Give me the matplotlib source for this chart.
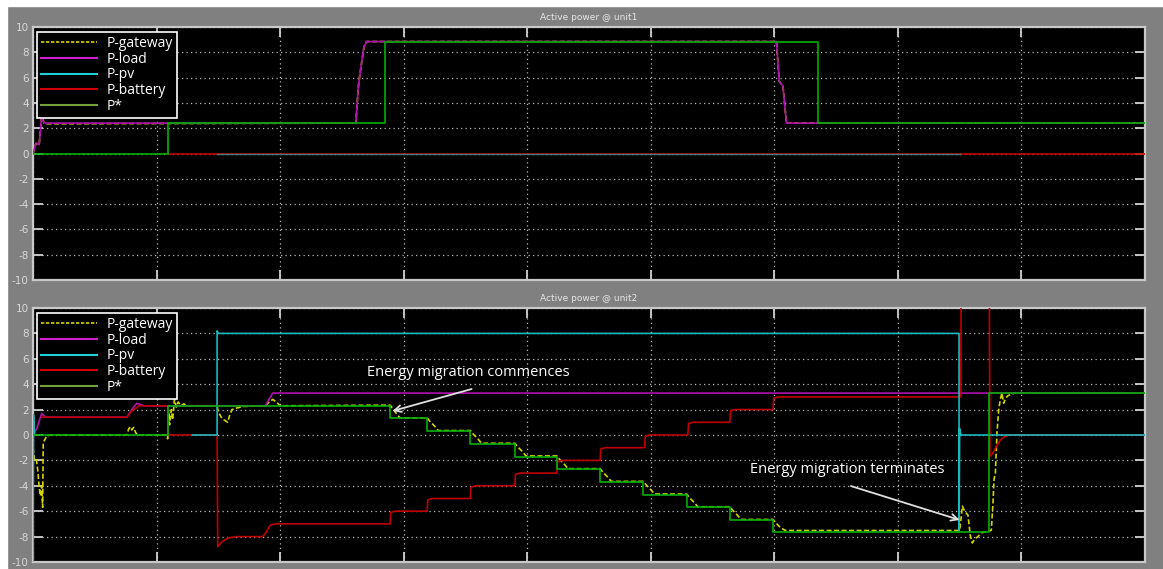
import matplotlib
matplotlib.use("Agg")
import matplotlib.pyplot as plt
from matplotlib.lines import Line2D
from matplotlib.patches import Rectangle

# ---------------- data ----------------
titles = ["Active power @ unit1", "Active power @ unit2"]
series_labels = ["P-gateway", "P-load", "P-pv", "P-battery", "P*"]
y_ticks = [-10, -8, -6, -4, -2, 0, 2, 4, 6, 8, 10]
x_grid = [0, 1, 2, 3, 4, 5, 6, 7, 8, 9]

# unit1
u1_load_t = [0, 0.024, 0.05, 0.07, 0.085, 0.10, 2.613, 2.632, 2.654, 2.678, 2.70, 6.017, 6.04, 6.07, 6.098, 9.0]
u1_load_v = [0, 0.8, 0.7, 2.9, 2.5, 2.4, 2.4, 5.2, 6.8, 8.4, 8.85, 8.85, 5.7, 5.3, 2.4, 2.4]
u1_gateway_t = [0, 0.024, 0.05, 0.07, 0.09, 0.11, 2.613, 2.632, 2.654, 2.678, 2.70, 6.017, 6.04, 6.07, 6.098, 9.0]
u1_gateway_v = [0, 0.8, 0.7, 2.95, 2.4, 2.35, 2.4, 5.2, 6.8, 8.4, 8.85, 8.85, 5.7, 5.3, 2.4, 2.4]
u1_pv_t = [1.49, 7.50]
u1_pv_v = [0, 0]
u1_battery_t = [1.09, 9.0]
u1_battery_v = [0, 0]
u1_star_t = [0, 1.09, 1.09, 2.848, 2.848, 6.35, 6.35, 9.0]
u1_star_v = [0, 0, 2.4, 2.4, 8.85, 8.85, 2.4, 2.4]

# unit2
u2_gateway_t = [0, 0.013, 0.027, 0.04, 0.049, 0.06, 0.07, 0.078, 0.083, 0.11, 0.14,
                0.76, 0.775, 0.79, 0.80, 0.815, 0.83, 0.845, 1.08, 1.09, 1.10, 1.105,
                1.12, 1.13, 1.145, 1.16, 1.175, 1.20, 1.22, 1.25, 1.49, 1.50, 1.53,
                1.56, 1.575, 1.59, 1.61, 1.64, 1.70, 1.88, 1.90, 1.94, 1.97, 2.00,
                2.89, 2.91, 2.94, 2.97, 3.19, 3.21, 3.25, 3.28, 3.54, 3.56, 3.60, 3.63,
                3.90, 3.92, 3.96, 3.99, 4.24, 4.26, 4.30, 4.33, 4.59, 4.61, 4.65, 4.68,
                4.94, 4.96, 5.00, 5.03, 5.29, 5.31, 5.35, 5.38, 5.64, 5.66, 5.70, 5.73,
                5.99, 6.01, 6.05, 6.09, 7.50, 7.522, 7.54, 7.567, 7.586, 7.602, 7.621,
                7.648, 7.675, 7.729, 7.756, 7.77, 7.778, 7.789, 7.802, 7.816, 7.829,
                7.842, 7.856, 7.872, 7.891, 7.918, 7.945, 8.066]
u2_gateway_v = [-1.0, -2.0, -1.9, -2.9, -4.0, -4.8, -4.0, -5.7, -0.6, -0.1, 0,
                0, 0.5, 0.65, 0.4, 0.6, 0.2, 0, 0, -0.3, 1.8, 0.8,
                2.0, 1.2, 2.8, 2.2, 2.6, 2.3, 2.45, 2.3, 2.3, 1.8, 1.3,
                1.1, 1.0, 1.5, 2.0, 2.1, 2.25, 2.3, 2.5, 2.8, 2.6, 2.3,
                2.35, 2.1, 1.7, 1.35, 1.35, 1.1, 0.7, 0.35, 0.35, 0.1, -0.3, -0.65,
                -0.65, -0.9, -1.3, -1.65, -1.65, -1.9, -2.3, -2.65, -2.65, -2.9, -3.3, -3.65,
                -3.65, -3.9, -4.3, -4.65, -4.65, -4.9, -5.3, -5.65, -5.65, -5.9, -6.3, -6.65,
                -6.65, -6.9, -7.3, -7.52, -7.52, -5.6, -6.0, -6.3, -7.9, -8.5, -8.2,
                -8.0, -7.7, -7.6, -7.5, -5.3, -3.5, -3.0, 0.2, 2.0, 2.8,
                3.3, 2.5, 2.9, 3.1, 3.2, 3.3, 3.3]
u2_load_t = [0, 0.03, 0.07, 0.10, 0.76, 0.80, 0.84, 0.90, 1.88, 1.94, 9.0]
u2_load_v = [0, 0.5, 1.7, 1.4, 1.4, 2.0, 2.5, 2.3, 2.3, 3.3, 3.3]
u2_pv_spike_t = [0, 0.004, 0.012]
u2_pv_spike_v = [-10, 1.6, 0]
u2_pv_t = [1.29, 1.49, 1.49, 1.50, 7.495, 7.495, 7.50, 7.51, 9.0]
u2_pv_v = [0, 0, 8.2, 8.0, 8.0, -7.5, 0.5, 0, 0]
u2_battery_t = [0.08, 0.76, 0.80, 0.86, 1.09, 1.095, 1.49, 1.495, 1.53, 1.58, 1.65,
                1.86, 1.89, 1.92, 1.96, 2.89, 2.895, 2.93, 3.19, 3.195, 3.23,
                3.54, 3.545, 3.58, 3.90, 3.905, 3.94, 4.24, 4.245, 4.28,
                4.59, 4.595, 4.63, 4.95, 4.955, 4.99, 5.30, 5.305, 5.34,
                5.64, 5.645, 5.68, 5.99, 5.995, 6.03, 7.508, 7.512, 7.74,
                7.745, 7.77, 7.80, 7.83, 7.86, 7.90, 9.0]
u2_battery_v = [1.4, 1.4, 1.9, 2.3, 2.3, 0, 0, -8.8, -8.4, -8.1, -8.0,
                -8.0, -7.6, -7.1, -7.0, -7.0, -6.1, -6.0, -6.0, -5.1, -5.0,
                -5.0, -4.1, -4.0, -4.0, -3.1, -3.0, -3.0, -2.1, -2.0,
                -2.0, -1.1, -1.0, -1.0, -0.1, 0.0, 0.0, 0.9, 1.0,
                1.0, 1.9, 2.0, 2.0, 2.9, 3.0, 3.0, 11.0, 11.0,
                -1.7, -1.4, -0.85, -0.4, -0.15, 0.0, 0.0]
u2_star_t = [0, 1.09, 1.09, 2.89, 2.89, 3.19, 3.19, 3.54, 3.54, 3.90, 3.90, 4.24, 4.24,
             4.59, 4.59, 4.94, 4.94, 5.29, 5.29, 5.64, 5.64, 5.99, 5.99, 7.737, 7.737, 9.0]
u2_star_v = [0, 0, 2.3, 2.3, 1.3, 1.3, 0.3, 0.3, -0.7, -0.7, -1.7, -1.7, -2.7,
             -2.7, -3.7, -3.7, -4.7, -4.7, -5.7, -5.7, -6.7, -6.7, -7.6, -7.6, 3.3, 3.3]

annotations = [
    ("Energy migration commences", (2.70, 4.96), (3.55, 3.62), (2.91, 1.89)),
    ("Energy migration terminates", (5.80, -2.68), (6.62, -4.02), (7.50, -6.69)),
]

# ---------------- style ----------------
C_GW = "#d4d400"
C_LOAD = "#b010b0"
C_PV = "#18b8c0"
C_BAT = "#c00000"
C_STAR = "#00b000"
C_STAR_LEG = "#74a03c"
BG = "#808080"
TXT = "#e6e6e6"
GRID = "#b8b8b8"

W, H, DPI = 1163, 569, 100
fig = plt.figure(figsize=(W / DPI, H / DPI), dpi=DPI, facecolor=BG)
fig.add_artist(Rectangle((0, 0), 7 / W, 1, transform=fig.transFigure, color="white", zorder=0))
fig.add_artist(Rectangle((0, 1 - 6 / H), 1, 6 / H, transform=fig.transFigure, color="white", zorder=0))

left, right = 33 / W, 1145 / W
ax1 = fig.add_axes([left, 1 - 280 / H, right - left, 253 / H])
ax2 = fig.add_axes([left, 1 - 562 / H, right - left, 254 / H])

for ax, title in zip((ax1, ax2), titles):
    ax.set_facecolor("black")
    ax.set_xlim(0, 9)
    ax.set_ylim(-10, 10)
    ax.set_xticks(x_grid)
    ax.set_yticks(y_ticks)
    ax.set_xticklabels([])
    ax.set_yticklabels([str(v) for v in y_ticks], fontsize=7.5, color="#d8d8d8",
                       family="DejaVu Sans")
    ax.tick_params(axis="both", direction="in", length=7.5, width=1.3, color="#d0d0d0",
                   top=True, right=True, pad=3)
    ax.grid(True, color=GRID, linestyle=(0, (1, 2.6)), linewidth=0.9)
    for sp in ax.spines.values():
        sp.set_color("#c8c8c8")
        sp.set_linewidth(1.6)
    ax.set_title(title, fontsize=6.5, color=TXT, pad=5, family="DejaVu Sans")

lw = 1.2
dash = (0, (3, 1.5))
# unit1
ax1.plot(u1_gateway_t, u1_gateway_v, color=C_GW, lw=lw, ls=dash, zorder=2)
ax1.plot(u1_load_t, u1_load_v, color=C_LOAD, lw=lw, zorder=3)
ax1.plot(u1_battery_t, u1_battery_v, color=C_BAT, lw=lw, zorder=4)
ax1.plot(u1_pv_t, u1_pv_v, color=C_PV, lw=1.0, alpha=0.65, zorder=5)
ax1.plot(u1_star_t, u1_star_v, color=C_STAR, lw=lw, zorder=6)
# unit2
ax2.plot(u2_gateway_t, u2_gateway_v, color=C_GW, lw=lw, ls=dash, zorder=2)
ax2.plot(u2_load_t, u2_load_v, color=C_LOAD, lw=lw, zorder=3)
ax2.plot(u2_battery_t, u2_battery_v, color=C_BAT, lw=lw, zorder=4)
ax2.plot(u2_pv_spike_t, u2_pv_spike_v, color=C_PV, lw=lw, zorder=5)
ax2.plot(u2_pv_t, u2_pv_v, color=C_PV, lw=lw, zorder=5)
ax2.plot(u2_star_t, u2_star_v, color=C_STAR, lw=lw, zorder=6)

handles = [
    Line2D([], [], color=C_GW, lw=1.2, ls=(0, (2, 1))),
    Line2D([], [], color="#d020d0", lw=1.5),
    Line2D([], [], color="#20d0d8", lw=1.5),
    Line2D([], [], color="#d00000", lw=1.5),
    Line2D([], [], color=C_STAR_LEG, lw=1.5),
]
for ax in (ax1, ax2):
    leg = ax.legend(handles, series_labels, loc="upper left", bbox_to_anchor=(0.0036, 0.982),
                    borderaxespad=0, frameon=True, fancybox=False, facecolor="black",
                    edgecolor="white", framealpha=1, handlelength=4.0, handletextpad=0.7,
                    labelspacing=0.06, borderpad=0.3,
                    prop={"family": "Open Sans", "size": 10})
    leg.get_frame().set_linewidth(1.2)
    for t in leg.get_texts():
        t.set_color("white")
    leg.set_zorder(20)

for text, xy_text, tail, head in annotations:
    ax2.text(xy_text[0], xy_text[1], text, color="white", fontsize=10.5,
             family="Open Sans", va="center", ha="left", zorder=30)
    ax2.annotate("", xy=head, xytext=tail,
                 arrowprops=dict(arrowstyle="->", color="#e0e0e0", lw=1.3,
                                 shrinkA=0, shrinkB=0, mutation_scale=12),
                 zorder=30)

fig.savefig("out.png", dpi=DPI, facecolor=BG)
